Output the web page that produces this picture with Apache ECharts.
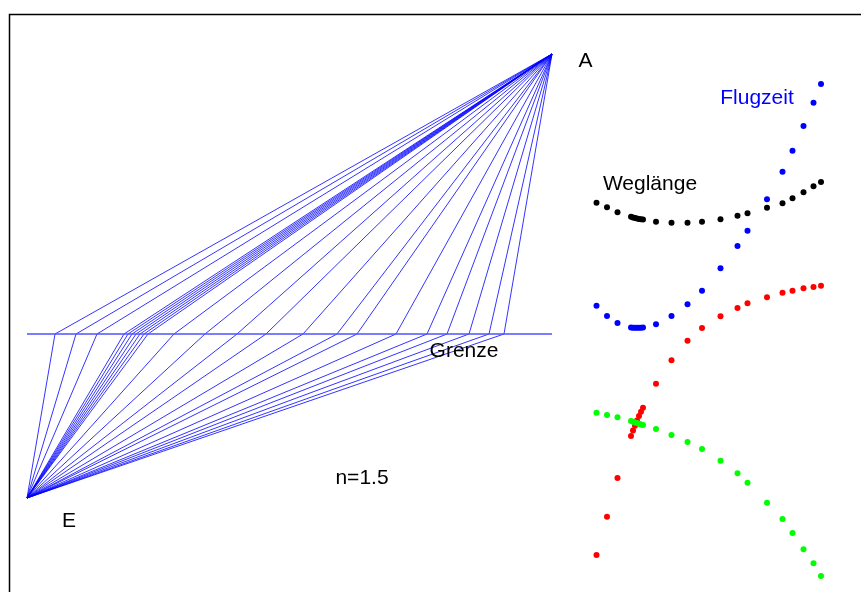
<!DOCTYPE html>
<html>
<head>
<meta charset="utf-8">
<script src="https://cdn.jsdelivr.net/npm/echarts@6/dist/echarts.min.js"></script>
<style>
html,body{margin:0;padding:0;background:#fff;}
#main{width:861px;height:592px;}
</style>
</head>
<body>
<div id="main"></div>
<script>
// Geometry (drawing units = reference pixels)
var pointA = [552, 54];
var pointE = [27, 498];
var boundaryY = 334;
// x positions where each ray crosses the boundary ("Grenze")
var crossings = [55, 76, 97, 124, 128, 132, 136, 140, 144, 148, 174, 205, 237, 266, 303, 337, 357, 396, 427, 447, 469, 489, 504];
// Right panel values (vertical position, one per crossing)
var weglaenge = [202.7, 207.3, 212.3, 216.7, 217.4, 218.0, 218.5, 218.9, 219.2, 219.4, 221.7, 222.7, 222.7, 221.7, 219.3, 215.7, 213.3, 207.7, 203.3, 198.3, 192.3, 186.3, 182.0];
var flugzeit  = [305.7, 316.0, 323.0, 327.5, 327.7, 327.7, 327.7, 327.7, 327.7, 327.5, 324.3, 316.0, 304.3, 290.7, 268.3, 246.0, 230.7, 199.3, 171.7, 150.7, 126.0, 102.7, 84.0];
var rot       = [555.0, 516.7, 478.0, 436.0, 430.5, 425.7, 420.5, 416.0, 411.7, 407.7, 383.7, 360.3, 340.7, 328.0, 316.3, 308.0, 303.3, 297.3, 292.7, 290.7, 288.3, 287.0, 285.7];
var gruen     = [412.7, 415.0, 417.3, 421.0, 421.7, 422.4, 423.0, 423.7, 424.4, 425.0, 429.0, 435.0, 442.0, 449.0, 460.7, 473.3, 482.7, 502.7, 519.0, 533.0, 549.3, 563.3, 576.0];

var chart = echarts.init(document.getElementById('main'), null, {renderer: 'canvas'});

var rays = crossings.map(function (cx) {
  return {coords: [pointA, [cx, boundaryY], pointE]};
});
function pts(vals) { return crossings.map(function (cx, i) { return [cx, vals[i]]; }); }

var hiddenAxis = {show: false, axisLine: {show: false}, splitLine: {show: false}, axisTick: {show: false}, axisLabel: {show: false}};

var font = '21px "Liberation Sans", Arial, sans-serif';
function label(text, x, y, color) {
  return {type: 'text', x: x, y: y, z: 100, style: {text: text, fill: color, font: font, align: 'center', verticalAlign: 'middle'}};
}

function dots(vals, color, z) {
  return {
    type: 'scatter', xAxisIndex: 1, yAxisIndex: 1, symbolSize: 6, silent: true, z: z || 2,
    data: pts(vals), itemStyle: {color: color, opacity: 1}
  };
}

chart.setOption({
  animation: false,
  backgroundColor: '#ffffff',
  grid: [
    {left: 0, top: 0, width: 861, height: 592},
    {left: 569, top: 0, width: 280, height: 592}
  ],
  xAxis: [
    Object.assign({type: 'value', min: 0, max: 861, gridIndex: 0}, hiddenAxis),
    Object.assign({type: 'value', min: 0, max: 560, gridIndex: 1}, hiddenAxis)
  ],
  yAxis: [
    Object.assign({type: 'value', min: 0, max: 592, inverse: true, gridIndex: 0}, hiddenAxis),
    Object.assign({type: 'value', min: 0, max: 592, inverse: true, gridIndex: 1}, hiddenAxis)
  ],
  graphic: [
    {type: 'rect', shape: {x: 9.5, y: 14.5, width: 900, height: 700}, style: {fill: 'none', stroke: '#000', lineWidth: 1.5}, z: 0},
    label('A', 585.5, 61, '#000'),
    label('E', 69, 521, '#000'),
    label('Grenze', 464, 351, '#000'),
    label('n=1.5', 362, 478, '#000'),
    label('Weglänge', 650, 184, '#000'),
    label('Flugzeit', 757, 98, '#0000ff')
  ],
  series: [
    {
      type: 'line', xAxisIndex: 0, yAxisIndex: 0, symbol: 'none', silent: true,
      data: [[pointE[0], boundaryY], [pointA[0], boundaryY]],
      lineStyle: {color: '#5050ff', width: 1.6}
    },
    {
      type: 'lines', coordinateSystem: 'cartesian2d', xAxisIndex: 0, yAxisIndex: 0, polyline: true, silent: true,
      data: rays,
      lineStyle: {color: '#0000ff', width: 0.8, opacity: 1}
    },
    dots(weglaenge, '#000000'),
    dots(flugzeit, '#0000ff'),
    dots(rot, '#ff0000'),
    dots(gruen, '#00ff00', 3)
  ]
});
</script>
</body>
</html>
